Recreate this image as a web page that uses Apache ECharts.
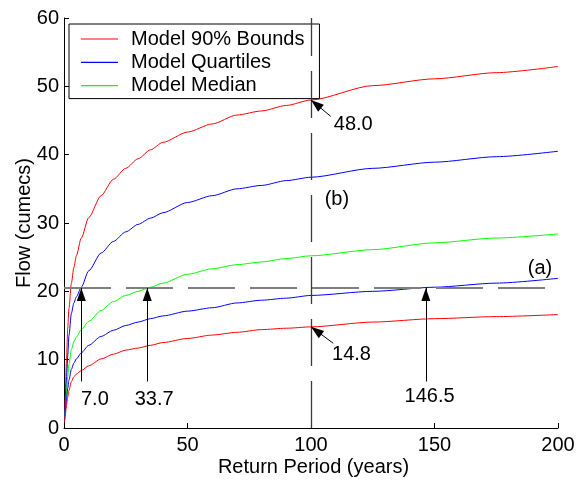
<!DOCTYPE html>
<html>
<head>
<meta charset="utf-8">
<script src="https://cdn.jsdelivr.net/npm/echarts@6.0.0/dist/echarts.min.js"></script>
<style>
  html, body { margin: 0; padding: 0; background: #fff; }
  #chart { width: 586px; height: 483px; }
</style>
</head>
<body>
<div id="chart"></div>
<script>
// return period (years)
const period = [0.2, 0.5, 1, 1.5, 2, 3, 4, 5, 7, 10, 15, 20, 25, 30, 35, 40, 50, 60, 70, 80, 90, 100, 125, 150, 175, 200];
// flow (cumecs)
const upper90 = [1.2, 4.0, 10.0, 14.5, 17.5, 21.2, 23.5, 25.2, 27.8, 30.8, 34.0, 36.4, 38.0, 39.4, 40.7, 41.8, 43.3, 44.5, 45.8, 46.4, 47.2, 48.0, 50.1, 51.1, 52.0, 52.9];
const upperQ  = [1.2, 3.5, 7.0, 10.5, 13.5, 16.8, 18.3, 19.2, 20.6, 23.0, 25.6, 27.3, 28.7, 29.8, 30.7, 31.5, 33.0, 34.0, 35.0, 35.5, 36.2, 36.7, 38.0, 38.9, 39.7, 40.5];
const median  = [1.0, 2.5, 5.0, 7.5, 9.3, 11.5, 12.6, 13.3, 14.4, 15.6, 17.2, 18.5, 19.4, 20.0, 20.6, 21.2, 22.5, 23.3, 23.9, 24.3, 24.8, 25.2, 26.1, 27.1, 27.8, 28.4];
const lowerQ  = [1.0, 2.3, 4.2, 5.8, 7.0, 8.6, 9.5, 10.1, 11.0, 12.1, 13.4, 14.3, 15.0, 15.5, 16.0, 16.4, 17.1, 17.6, 18.3, 18.7, 19.0, 19.4, 20.0, 20.6, 21.2, 21.9];
const lower90 = [0.8, 1.8, 3.3, 4.5, 5.5, 6.8, 7.5, 7.9, 8.4, 9.1, 10.1, 10.8, 11.4, 11.7, 12.1, 12.5, 13.1, 13.6, 14.0, 14.4, 14.6, 14.8, 15.5, 16.0, 16.3, 16.6];

const xTicks = [0, 50, 100, 150, 200];
const yTicks = [0, 10, 20, 30, 40, 50, 60];

const threshold = 20.5;   // line (a)
const design = 100;       // line (b)
// arrows: tail x, tail y, tip x, tip y
const arrows = [
  [7.0, 6.8, 7.0, 20.5],
  [33.7, 6.8, 33.7, 20.5],
  [146.5, 6.8, 146.5, 20.5],
  [108.0, 45.6, 100, 48.0],
  [109.0, 12.4, 100, 14.8]
];
// text notes: x, y, text
const notes = [
  [12.5, 4.1, '7.0'],
  [36.5, 4.1, '33.7'],
  [148.0, 4.6, '146.5'],
  [117.1, 44.4, '48.0'],
  [116.4, 10.7, '14.8'],
  [110.5, 33.4, '(b)'],
  [192.7, 23.4, '(a)']
];

const font = '"Liberation Sans", Arial, sans-serif';
const pair = ys => period.map((x, i) => [x, ys[i]]);

function curve(name, ys, color) {
  return {
    name: name,
    type: 'line',
    data: pair(ys),
    showSymbol: false,
    symbol: 'none',
    smooth: 0.25,
    smoothMonotone: 'x',
    lineStyle: { color: color, width: 1 },
    itemStyle: { color: color },
    silent: true,
    z: 2
  };
}

const chart = echarts.init(document.getElementById('chart'), null, { renderer: 'canvas' });

const option = {
  animation: false,
  textStyle: { fontFamily: font },
  grid: { left: 64, right: 28, top: 18, bottom: 55 },
  legend: {
    data: ['Model 90% Bounds', 'Model Quartiles', 'Model Median'],
    orient: 'vertical',
    left: 69,
    top: 24,
    padding: [5, 15, 3, 12],
    itemGap: 3.3,
    icon: 'rect',
    itemWidth: 37,
    itemHeight: 1.2,
    backgroundColor: '#fff',
    borderColor: '#000',
    borderWidth: 1,
    borderRadius: 0,
    selectedMode: false,
    textStyle: { fontSize: 20, color: '#000', fontFamily: font, lineHeight: 20, padding: [0, 0, 0, 8] }
  },
  xAxis: {
    type: 'value',
    min: xTicks[0],
    max: xTicks[xTicks.length - 1],
    interval: 50,
    name: 'Return Period (years)',
    nameLocation: 'middle',
    nameGap: 29,
    nameMoveOverlap: false,
    nameTextStyle: { fontSize: 20, color: '#000', fontFamily: font, padding: [0, 0, 0, 5] },
    axisLine: { lineStyle: { color: '#000', width: 1 } },
    axisTick: { inside: true, length: 5, lineStyle: { color: '#000' } },
    axisLabel: { fontSize: 20, color: '#000', margin: 7, fontFamily: font },
    splitLine: { show: false }
  },
  yAxis: {
    type: 'value',
    min: yTicks[0],
    max: yTicks[yTicks.length - 1],
    interval: 10,
    name: 'Flow (cumecs)',
    nameLocation: 'middle',
    nameGap: 30,
    nameMoveOverlap: false,
    nameTextStyle: { fontSize: 20, color: '#000', fontFamily: font },
    axisLine: { show: true, lineStyle: { color: '#000', width: 1 } },
    axisTick: { show: true, inside: true, length: 5, lineStyle: { color: '#000' } },
    axisLabel: { fontSize: 20, color: '#000', margin: 5, fontFamily: font },
    splitLine: { show: false }
  },
  series: [
    curve('Model 90% Bounds', upper90, '#ff0000'),
    curve('Model Quartiles', upperQ, '#0000ff'),
    curve('Model Median', median, '#00ff00'),
    curve('Model Quartiles', lowerQ, '#0000ff'),
    curve('Model 90% Bounds', lower90, '#ff0000'),
    {
      name: 'line a',
      type: 'line',
      data: [],
      silent: true,
      z: 3,
      markLine: {
        silent: true,
        animation: false,
        symbol: ['none', 'none'],
        label: { show: false },
        lineStyle: { color: '#7f7f7f', width: 2, type: [47, 15] },
        data: [[{ coord: [xTicks[0], threshold] }, { coord: [xTicks[xTicks.length - 1], threshold] }]]
      }
    },
    {
      name: 'line b',
      type: 'line',
      data: [],
      silent: true,
      z: 3,
      markLine: {
        silent: true,
        animation: false,
        symbol: ['none', 'none'],
        label: { show: false },
        lineStyle: { color: '#3a3a3a', width: 1.3, type: [47, 15] },
        data: [[{ coord: [design, yTicks[0]] }, { coord: [design, yTicks[yTicks.length - 1]] }]]
      }
    },
    {
      name: 'arrows',
      type: 'line',
      data: [],
      silent: true,
      z: 4,
      markLine: {
        silent: true,
        animation: false,
        symbol: ['none', 'triangle'],
        label: { show: false },
        lineStyle: { color: '#000', width: 1, type: 'solid' },
        data: arrows.map(a => [
          { coord: [a[0], a[1]], symbol: 'none' },
          { coord: [a[2], a[3]], symbol: 'triangle', symbolSize: [9, 13], symbolOffset: [0, 6.5] }
        ])
      }
    },
    {
      name: 'notes',
      type: 'scatter',
      data: notes.map(n => [n[0], n[1], n[2]]),
      symbolSize: 0,
      itemStyle: { color: '#000' },
      silent: true,
      z: 5,
      label: {
        show: true,
        position: 'inside',
        formatter: p => p.value[2],
        fontSize: 20,
        color: '#000',
        opacity: 1,
        textBorderWidth: 0,
        fontFamily: font
      }
    }
  ]
};

chart.setOption(option);
</script>
</body>
</html>
